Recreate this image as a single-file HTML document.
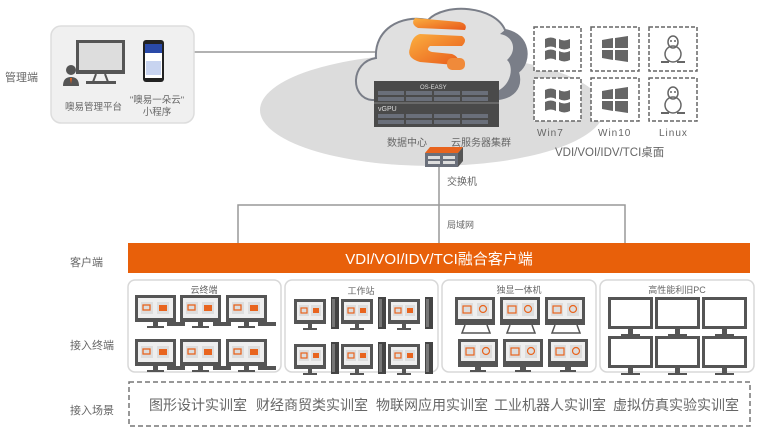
<!DOCTYPE html>
<html><head><meta charset="utf-8"><style>
html,body{margin:0;padding:0;background:#fff;width:764px;height:442px;overflow:hidden}
svg text{font-family:"Liberation Sans","Noto Sans CJK SC",sans-serif;fill:#666}
</style></head><body>
<svg width="764" height="442" viewBox="0 0 764 442" xmlns="http://www.w3.org/2000/svg">
<defs>
<linearGradient id="og" x1="0" y1="0" x2="1" y2="1"><stop offset="0" stop-color="#fbb040"/><stop offset="1" stop-color="#e8581a"/></linearGradient>
<g id="mA">
<rect x="0" y="0" width="41" height="27" fill="#555"/>
<rect x="3" y="3" width="35" height="20" fill="#eee"/>
<rect x="6" y="7" width="12" height="12" fill="#ddd"/><rect x="22" y="7" width="12" height="12" fill="#ddd"/>
<rect x="8" y="10" width="7" height="5" fill="none" stroke="#e8641e" stroke-width="1.3"/>
<rect x="24" y="10" width="8" height="6" fill="#e8641e"/>
<rect x="18" y="27" width="5" height="4" fill="#555"/><rect x="12" y="31" width="17" height="2" fill="#555"/>
</g>
<g id="mB">
<rect x="0" y="0" width="32" height="25" fill="#555"/>
<rect x="3" y="3" width="26" height="18" fill="#eee"/>
<rect x="5" y="6" width="10" height="11" fill="#ddd"/><rect x="17" y="6" width="10" height="11" fill="#ddd"/>
<rect x="7" y="9" width="6" height="5" fill="none" stroke="#e8641e" stroke-width="1.2"/>
<rect x="19" y="9" width="6" height="5" fill="#e8641e"/>
<rect x="14" y="25" width="4" height="4" fill="#555"/><rect x="9" y="29" width="14" height="2" fill="#555"/>
<rect x="37" y="-2" width="8" height="32" fill="#444"/><rect x="38" y="0" width="3" height="28" fill="#777"/>
</g>
<g id="mC">
<rect x="0" y="0" width="40" height="28" fill="#555"/>
<rect x="3" y="3" width="34" height="19" fill="#eee"/>
<rect x="6" y="6" width="12" height="13" fill="#ddd"/><rect x="22" y="6" width="12" height="13" fill="#ddd"/>
<rect x="8" y="9" width="8" height="7" fill="none" stroke="#e8641e" stroke-width="1.2"/>
<circle cx="28" cy="12" r="3.5" fill="none" stroke="#e8641e" stroke-width="1.2"/>
</g>
<g id="mD"><rect x="0" y="0" width="45" height="32" fill="#555"/><rect x="3" y="3" width="39" height="26" fill="#fff"/>
<rect x="20" y="32" width="5" height="5" fill="#555"/><rect x="13" y="37" width="19" height="2" fill="#555"/></g>
<g id="win7"><path d="M-12 -10 q6 -3 11 0 v9 q-5 -3 -11 0z M2 -10 q5 3 11 0 v9 q-6 3 -11 0z M-12 2 q6 -3 11 0 v9 q-5 -3 -11 0z M2 2 q5 3 11 0 v9 q-6 3 -11 0z" fill="#666"/></g>
<g id="win10"><path d="M-13 -9 L-2 -11 V-1 H-13z M0 -11 L13 -13 V-1 H0z M-13 1 H-2 V11 L-13 9z M0 1 H13 V13 L0 11z" fill="#666"/></g>
<g id="tux"><ellipse cx="0" cy="-7" rx="5" ry="6" fill="none" stroke="#666" stroke-width="1.5"/><ellipse cx="0" cy="5" rx="8" ry="8" fill="none" stroke="#666" stroke-width="1.5"/><circle cx="-2" cy="-8" r="1" fill="#666"/><circle cx="2" cy="-8" r="1" fill="#666"/><path d="M-12 13 h8 M4 13 h8" stroke="#666" stroke-width="2"/></g>
</defs>

<line x1="194" y1="52" x2="385" y2="52" stroke="#999" stroke-width="1.5"/>
<ellipse cx="432" cy="110" rx="172" ry="56" fill="#dcdcdc"/>
<!-- cloud -->
<path d="M372 100 C350 98 350 62 376 58 C374 30 400 14 428 20 C445 2 495 6 505 30 C530 34 532 62 518 72 C525 95 500 102 490 98 Z" fill="#e0e0e0" stroke="#7a7e88" stroke-width="2"/>
<path d="M505 30 C530 34 532 62 518 72 C525 95 500 102 490 98 L495 92 C512 86 514 66 507 60 C518 50 513 36 500 34Z" fill="#7a7e88"/>
<path d="M415 18 L460 22 Q468 24 465 30 L418 28 Q410 24 415 18Z" fill="url(#og)"/>
<path d="M420 34 L462 36 Q468 40 462 46 L430 46 Q425 50 432 52 L452 54 Q462 58 455 65 L420 62 Q406 58 410 48 Q412 36 420 34Z" fill="url(#og)"/>
<rect x="447" y="58" width="18" height="12" rx="5" fill="#f08a3a"/>
<rect x="374" y="81" width="125" height="46" fill="#4a4a4a"/>
<line x1="374" y1="103" x2="499" y2="103" stroke="#888"/>
<text x="420" y="89" font-size="6" style="fill:#ddd">OS-EASY</text>
<text x="378" y="111" font-size="7" style="fill:#ddd">vGPU</text>
<g fill="#6a6f7a">
<rect x="378" y="91" width="26" height="4"/><rect x="406" y="91" width="26" height="4"/><rect x="434" y="91" width="26" height="4"/><rect x="462" y="91" width="26" height="4"/>
<rect x="378" y="97" width="26" height="4"/><rect x="406" y="97" width="26" height="4"/><rect x="434" y="97" width="26" height="4"/><rect x="462" y="97" width="26" height="4"/>
<rect x="378" y="114" width="26" height="4"/><rect x="406" y="114" width="26" height="4"/><rect x="434" y="114" width="26" height="4"/><rect x="462" y="114" width="26" height="4"/>
<rect x="378" y="120" width="26" height="4"/><rect x="406" y="120" width="26" height="4"/><rect x="434" y="120" width="26" height="4"/><rect x="462" y="120" width="26" height="4"/>
</g>
<text x="387" y="146" font-size="10">数据中心</text>
<text x="451" y="146" font-size="10">云服务器集群</text>
<path d="M425 153 L430 147 L463 147 L458 153Z" fill="#e8641e"/>
<rect x="425" y="153" width="33" height="14" fill="#6a6f7a"/>
<path d="M458 153 L463 147 V161 L458 167Z" fill="#555"/>
<rect x="428" y="156" width="12" height="3" fill="#ddd"/><rect x="443" y="156" width="12" height="3" fill="#ddd"/>
<rect x="428" y="161" width="12" height="3" fill="#ddd"/><rect x="443" y="161" width="12" height="3" fill="#ddd"/>
<line x1="439" y1="167" x2="439" y2="243" stroke="#999" stroke-width="1.5"/>
<polyline points="238,243 238,205 625,205 625,243" fill="none" stroke="#999" stroke-width="1.5"/>
<text x="447" y="185" font-size="10">交换机</text>
<text x="447" y="228" font-size="9">局域网</text>

<g fill="#fff" stroke="#666" stroke-width="1.5" stroke-dasharray="4,2">
<rect x="534" y="27" width="47" height="44"/><rect x="591" y="27" width="48" height="44"/><rect x="649" y="27" width="48" height="44"/>
<rect x="534" y="78" width="47" height="43"/><rect x="591" y="78" width="48" height="43"/><rect x="649" y="78" width="48" height="43"/>
</g>
<use href="#win7" x="557" y="49"/><use href="#win7" x="557" y="100"/>
<use href="#win10" x="615" y="49"/><use href="#win10" x="615" y="100"/>
<use href="#tux" x="673" y="49"/><use href="#tux" x="673" y="100"/>
<text x="537" y="136" font-size="10" letter-spacing="1">Win7</text>
<text x="598" y="136" font-size="10" letter-spacing="1">Win10</text>
<text x="659" y="136" font-size="10" letter-spacing="1">Linux</text>
<text x="555" y="156" font-size="11.5">VDI/VOI/IDV/TCI桌面</text>

<text x="5" y="81" font-size="11">管理端</text>
<rect x="51" y="26" width="143" height="97" rx="10" fill="#f0f0f0" stroke="#ddd" stroke-width="1.5"/>
<rect x="76" y="40" width="49" height="34" fill="#555"/><rect x="79" y="43" width="43" height="27" fill="#ddd"/>
<path d="M96 74 L93 82 M105 74 L108 82" stroke="#555" stroke-width="2"/><rect x="86" y="81" width="30" height="3" fill="#555"/>
<circle cx="71" cy="70" r="5" fill="#555"/><path d="M63 86 Q63 77 71 77 Q79 77 79 86Z" fill="#555"/><path d="M70 78 L72 78 L71 84Z" fill="#e8641e"/>
<rect x="143" y="40" width="21" height="42" rx="3" fill="#222"/><rect x="145" y="44" width="17" height="34" fill="#fff"/>
<rect x="145" y="44" width="17" height="9" fill="#2a4aa8"/><rect x="146" y="61" width="15" height="14" fill="#c8d4f0"/>
<text x="65" y="110" font-size="9.5">噢易管理平台</text>
<text x="157" y="103" font-size="9.5" text-anchor="middle">"噢易一朵云"</text>
<text x="157" y="115" font-size="9.5" text-anchor="middle">小程序</text>

<text x="70" y="266" font-size="11">客户端</text>
<rect x="128" y="243" width="622" height="30" fill="#e8600a"/>
<text x="439" y="264" font-size="15" text-anchor="middle" style="fill:#fff">VDI/VOI/IDV/TCI融合客户端</text>

<text x="70" y="349" font-size="11">接入终端</text>
<g fill="#fff" stroke="#d8d8d8" stroke-width="1.5">
<rect x="128" y="280" width="153" height="92" rx="7"/><rect x="285" y="280" width="153" height="92" rx="7"/>
<rect x="442" y="280" width="154" height="92" rx="7"/><rect x="600" y="280" width="154" height="92" rx="7"/>
</g>
<text x="204" y="293" font-size="9" text-anchor="middle">云终端</text>
<text x="361" y="294" font-size="9" text-anchor="middle">工作站</text>
<text x="519" y="293" font-size="9" text-anchor="middle">独显一体机</text>
<text x="677" y="293" font-size="9" text-anchor="middle">高性能利旧PC</text>
<use href="#mA" x="135" y="295"/><use href="#mA" x="180" y="295"/><use href="#mA" x="226" y="295"/>
<use href="#mA" x="135" y="339"/><use href="#mA" x="180" y="339"/><use href="#mA" x="226" y="339"/>
<g fill="#555">
<rect x="167" y="322" width="18" height="4"/><rect x="213" y="322" width="18" height="4"/><rect x="258" y="322" width="18" height="4"/>
<rect x="167" y="366" width="18" height="4"/><rect x="213" y="366" width="18" height="4"/><rect x="258" y="366" width="18" height="4"/>
</g>
<use href="#mB" x="294" y="299"/><use href="#mB" x="341" y="299"/><use href="#mB" x="388" y="299"/>
<use href="#mB" x="294" y="344"/><use href="#mB" x="341" y="344"/><use href="#mB" x="388" y="344"/>
<use href="#mC" x="455" y="297"/><use href="#mC" x="500" y="297"/><use href="#mC" x="545" y="297"/>
<use href="#mC" x="458" y="339"/><use href="#mC" x="503" y="339"/><use href="#mC" x="548" y="339"/>
<g stroke="#555" stroke-width="1.5" fill="none">
<path d="M465 325 L462 333 H490 L487 325 M510 325 L507 333 H535 L532 325 M555 325 L552 333 H580 L577 325"/>
</g>
<g fill="#555"><rect x="475" y="367" width="6" height="3"/><rect x="470" y="370" width="16" height="2"/><rect x="520" y="367" width="6" height="3"/><rect x="515" y="370" width="16" height="2"/><rect x="565" y="367" width="6" height="3"/><rect x="560" y="370" width="16" height="2"/></g>
<use href="#mD" x="608" y="297"/><use href="#mD" x="655" y="297"/><use href="#mD" x="702" y="297"/>
<use href="#mD" x="608" y="336"/><use href="#mD" x="655" y="336"/><use href="#mD" x="702" y="336"/>

<text x="70" y="414" font-size="11">接入场景</text>
<rect x="129" y="382" width="621" height="44" fill="none" stroke="#777" stroke-width="1.5" stroke-dasharray="5,3"/>
<text x="149" y="410" font-size="14">图形设计实训室</text>
<text x="256" y="410" font-size="14">财经商贸类实训室</text>
<text x="376" y="410" font-size="14">物联网应用实训室</text>
<text x="494" y="410" font-size="14">工业机器人实训室</text>
<text x="613" y="410" font-size="14">虚拟仿真实验实训室</text>
</svg>
</body></html>
